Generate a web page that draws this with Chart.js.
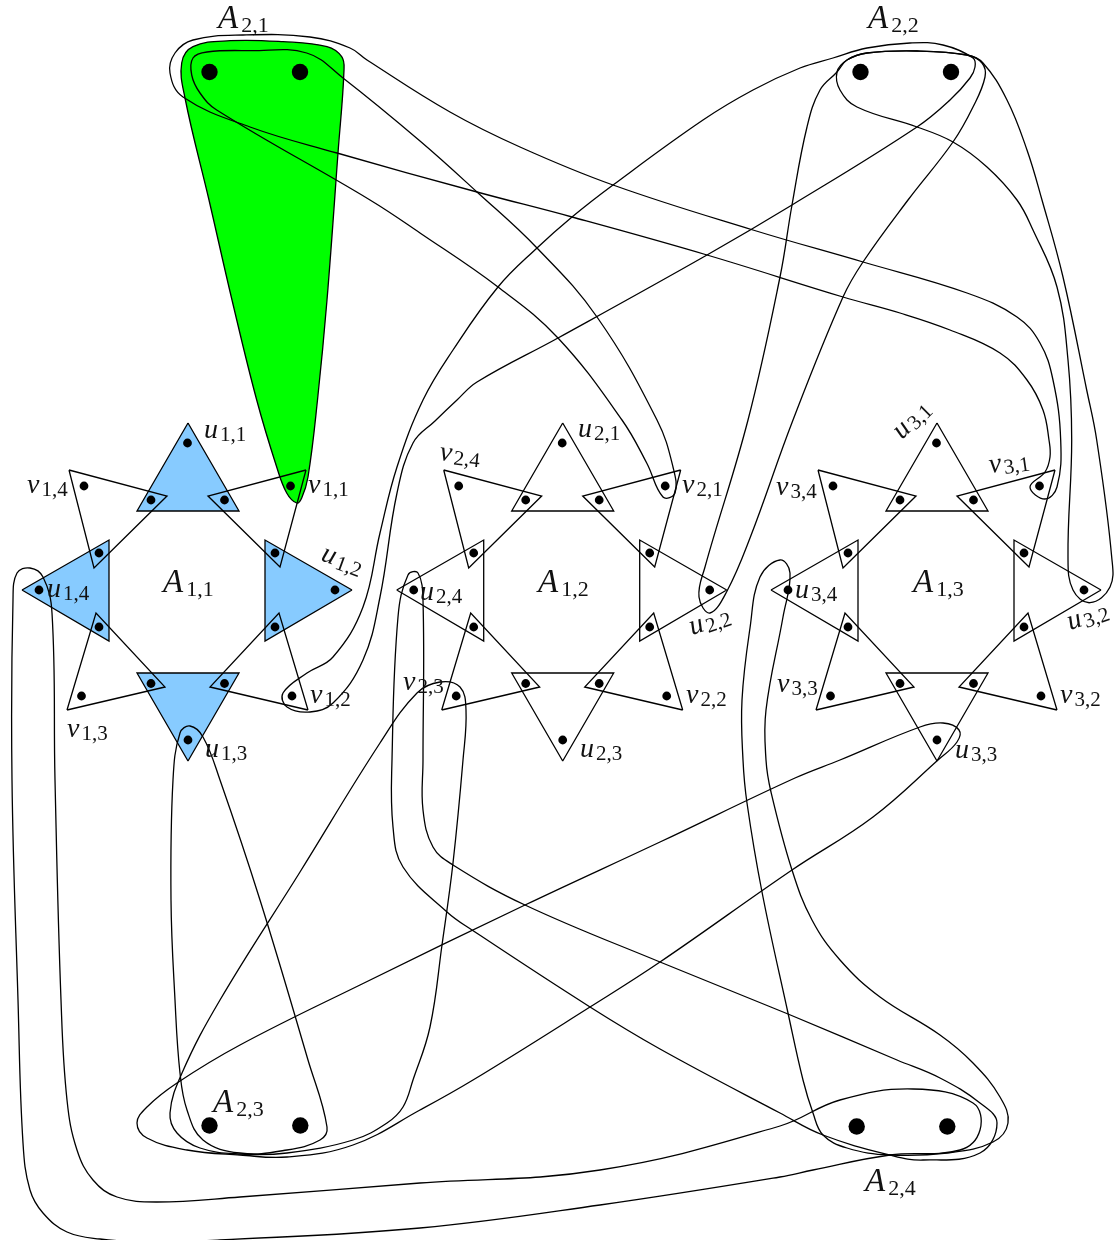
<!DOCTYPE html>
<html>
<head>
<meta charset="utf-8">
<title>Gadget reduction</title>
<script src="https://cdn.jsdelivr.net/npm/chart.js@4"></script>
<style>
  body { margin: 0; background: #fff; }
  canvas { display: block; }
</style>
</head>
<body>
<canvas id="gadgetChart" width="1119" height="1240"></canvas>
<script>
// every gadget is the same star, shifted along x
const gadgetShift = [0, 374.7, 749];

const uTriangles = [
  [[188, 423], [137, 511], [239, 511]],
  [[352, 590], [265, 540], [265, 641]],
  [[188, 761], [137, 673], [239, 673]],
  [[22, 590], [109, 540], [109, 641]]
];
const vTriangles = [
  [[306, 470], [208, 496], [280, 567]],
  [[308, 710], [210, 687], [279, 613]],
  [[67, 710], [165, 687], [96, 613]],
  [[69, 470], [167, 496], [94, 568]]
];
const starDots = [
  [187.5, 443], [335, 590], [188, 740], [39, 590],
  [290.5, 486], [292, 696], [81.5, 696], [84, 486],
  [151, 500], [224.5, 500], [99, 553], [99, 627],
  [275, 553], [275, 627], [151, 683.5], [224.5, 683.5]
];
const bigDots = [
  [209.5, 72], [300, 72], [860.5, 72], [951, 72],
  [209.5, 1125.5], [300.3, 1125.5], [856.7, 1126.5], [947.3, 1126.5]
];

// hyperedge outlines, each one a closed loop
const greenLoop = [
  [344, 70], [338, 153], [327, 300], [317.5, 400], [308, 477], [301.7, 498], [296.7, 503],
  [286.7, 493], [276.7, 467], [256.7, 400], [232, 300], [209, 200], [185, 98], [181.7, 63],
  [193, 46.7], [230, 40.7], [283, 41.7], [327, 46.7], [341.7, 56.7]
];
const v31Loop = [
  [170, 73], [175, 53], [193, 40], [243, 35], [310, 37], [350, 48], [367, 60], [450, 112], [520, 147], [613, 185],
  [753, 230], [863, 262], [967, 293], [1017, 317], [1040, 343], [1053, 380], [1060.7, 440], [1057, 487],
  [1045, 499], [1030, 487], [1045, 472], [1050, 457], [1049, 440], [1043, 410], [1027, 380], [1000, 353],
  [950, 330], [900, 313], [843, 297], [707, 255], [572, 217], [477, 192], [337, 153], [250, 127], [183, 97]
];
const v21Loop = [
  [191.7, 75], [193, 58], [207, 52], [250, 50.7], [306.7, 53], [343, 78], [420, 141], [477, 192], [537, 248], [597, 317],
  [657, 420], [673, 467], [675, 493], [663, 497], [646.7, 463], [622, 420], [558, 338], [498, 287],
  [420, 233], [370, 200], [216.7, 110], [200, 93]
];
const v12Loop = [
  [310, 712], [333, 703], [363, 660], [380, 597], [397, 493], [413, 443], [435, 421], [457, 400], [477, 382], [558, 338],
  [707, 255], [792, 205], [917, 127], [950, 100], [970, 78], [975, 67], [973, 58], [943, 45], [910, 43], [867, 48], [833, 58],
  [800, 68], [753, 90], [703, 120], [613, 185], [572, 217], [537, 248], [498, 287], [453, 350], [423, 400], [397, 467],
  [380, 533], [363, 607], [333, 657], [307, 673], [283, 693], [287, 707]
];
const u22Loop = [
  [837, 72], [847, 60], [867, 53], [917, 51], [967, 55], [982, 63], [985, 77], [973, 107], [953, 142], [908, 200],
  [863, 262], [843, 297], [793, 420], [750, 538], [726.7, 591.7], [710, 613], [699, 597], [705, 567], [748, 420],
  [780, 277], [792, 205], [807, 127], [820, 90]
];
const u32Loop = [
  [837, 72], [847, 60], [867, 53], [917, 51], [967, 55], [983, 63], [1007, 100], [1027, 150], [1042, 200], [1063, 277],
  [1086.7, 390], [1096.7, 440], [1111.7, 557], [1110, 587], [1090, 602.7], [1073, 590], [1068, 557],
  [1071.7, 440], [1068, 360], [1057, 287], [1033, 230], [1017, 200], [987, 167], [953, 142], [917, 127], [857, 107], [840, 90]
];
const u13Loop = [
  [190, 726], [203, 737], [220, 780], [260, 900], [308, 1060], [327, 1127], [320, 1140], [287, 1150],
  [240, 1153], [203, 1140], [187, 1110], [180, 1073], [175, 1000], [171, 900], [173, 780], [180, 733]
];
const v23Loop = [
  [440, 682], [460, 687], [466, 710], [463, 760], [453, 863], [442, 945], [430, 1027], [413, 1080], [403, 1107], [387, 1123],
  [353, 1140], [287, 1153], [240, 1154], [200, 1148], [177, 1133], [170, 1113], [182, 1073], [220, 1000], [300, 872],
  [380, 743], [417, 693]
];
const u33Loop = [
  [943, 723], [959, 730], [957, 742], [938, 760], [873, 817], [792, 870], [660, 962], [590, 1007], [473, 1080], [420, 1110],
  [353, 1145], [287, 1157], [240, 1155], [187, 1150], [147, 1138], [137, 1123], [147, 1107], [177, 1083], [240, 1045],
  [360, 985], [525, 905], [660, 842], [795, 778], [840, 760], [920, 727]
];
const u24Loop = [
  [408, 575], [418, 573], [423, 600], [423, 760], [423, 810], [433, 847], [453, 865], [525, 905], [660, 962], [788, 1014],
  [897, 1060], [940, 1078], [980, 1103], [997, 1123], [980, 1153], [923, 1160], [890, 1155], [823, 1135], [780, 1113],
  [660, 1049], [590, 1007], [472, 930], [447, 912], [403, 867], [393, 827], [392, 760], [398, 617]
];
const u34Loop = [
  [780, 560], [790, 573], [783, 617], [766, 710], [766, 760], [771, 792], [792, 870], [812, 920], [840, 960], [880, 997],
  [940, 1035], [973, 1063], [1000, 1097], [1008, 1123], [993, 1142], [947, 1153], [890, 1155], [847, 1148], [823, 1135],
  [813, 1113], [803, 1080], [788, 1013], [762, 892], [747, 803], [743, 760], [742, 700], [750, 628], [760, 577]
];
const u14Loop = [
  [17, 573], [30, 568], [43, 577], [52, 613], [55, 780], [61, 1000], [67, 1100], [77, 1150], [93, 1180], [117, 1197],
  [157, 1202], [240, 1197], [420, 1183], [600, 1170], [780, 1126], [840, 1100], [913, 1089], [973, 1103], [980, 1130],
  [960, 1150], [890, 1155], [813, 1170], [780, 1177], [600, 1205], [420, 1228], [220, 1240], [150, 1242], [100, 1239],
  [67, 1232], [43, 1213], [30, 1190], [23, 1143], [18, 1000], [12, 780], [13, 600]
];
const blackLoops = [v31Loop, v21Loop, v12Loop, u22Loop, u32Loop, u13Loop, v23Loop, u33Loop, u24Loop, u34Loop, u14Loop];

// text, subscript, left end of the baseline, rotation in degrees
const bigLabels = [
  ["A", "1,1", 163, 592, 0], ["A", "1,2", 538, 592, 0], ["A", "1,3", 913, 592, 0],
  ["A", "2,1", 218, 28, 0], ["A", "2,2", 868, 28, 0], ["A", "2,3", 213, 1112, 0], ["A", "2,4", 865, 1191, 0]
];
const smallLabels = [
  ["u", "1,1", 204, 438, 0], ["u", "1,2", 320, 560, 20], ["u", "1,3", 205, 757, 0], ["u", "1,4", 47, 597, 0],
  ["v", "1,1", 308, 493, 0], ["v", "1,2", 310, 703, 0], ["v", "1,3", 67, 737, 0], ["v", "1,4", 27, 493, 0],
  ["u", "2,1", 578, 437, 0], ["u", "2,2", 692, 635, -18], ["u", "2,3", 580, 757, 0], ["u", "2,4", 420, 600, 0],
  ["v", "2,1", 682, 493, 0], ["v", "2,2", 686, 703, 0], ["v", "2,3", 403, 690, 0], ["v", "2,4", 439, 460, 6],
  ["u", "3,1", 902, 440, -45], ["u", "3,2", 1070, 630, -18], ["u", "3,3", 955, 758, 0], ["u", "3,4", 795, 598, 0],
  ["v", "3,1", 990, 473, -8], ["v", "3,2", 1060, 703, 0], ["v", "3,3", 777, 692, 0], ["v", "3,4", 776, 495, 0]
];

const toPoints = list => list.map(p => ({ x: p[0], y: p[1] }));
const shifted = (list, dx) => list.map(p => [p[0] + dx, p[1]]);

// the loop runs over its first point twice so the spline has no kink at the seam,
// the two extra segments are left transparent
function closedLoop(list) {
  const last = list.length - 1;
  const pts = [list[last], ...list, list[0], list[1]];
  return {
    data: toPoints(pts),
    showLine: true,
    tension: 0.4,
    capBezierPoints: false,
    borderColor: "#000",
    borderWidth: 1.3,
    pointRadius: 0,
    order: 2,
    segment: {
      borderColor: ctx => (ctx.p0DataIndex === 0 || ctx.p1DataIndex === pts.length - 1) ? "transparent" : "#000"
    }
  };
}

function triangle(list, fillColor, order) {
  return {
    data: toPoints([...list, list[0]]),
    showLine: true,
    tension: 0,
    borderColor: "#000",
    borderWidth: 1.3,
    borderJoinStyle: "miter",
    pointRadius: 0,
    fill: fillColor ? "shape" : false,
    backgroundColor: fillColor || "transparent",
    order: order
  };
}

const datasets = [];

datasets.push({ data: toPoints(gadgetShift.flatMap(dx => shifted(starDots, dx))), pointRadius: 4.4, pointBackgroundColor: "#000", pointBorderWidth: 0, order: 0 });
datasets.push({ data: toPoints(bigDots), pointRadius: 8.2, pointBackgroundColor: "#000", pointBorderWidth: 0, order: 0 });

blackLoops.forEach(loop => datasets.push(closedLoop(loop)));

gadgetShift.forEach((dx, g) => {
  uTriangles.forEach(t => datasets.push(triangle(shifted(t, dx), g === 0 ? "#87cbff" : null, g === 0 ? 5 : 3)));
  vTriangles.forEach(t => datasets.push(triangle(shifted(t, dx), null, 3)));
});

datasets.push({ ...closedLoop(greenLoop), fill: "shape", backgroundColor: "#00ff00", order: 6 });

const labelPlugin = {
  id: "gadgetLabels",
  afterDatasetsDraw(chart) {
    const { ctx, scales } = chart;
    const put = (rows, size, subSize, drop, gap) => rows.forEach(([main, sub, x, y, rot]) => {
      ctx.save();
      ctx.translate(scales.x.getPixelForValue(x), scales.y.getPixelForValue(y));
      ctx.rotate(rot * Math.PI / 180);
      ctx.fillStyle = "#111";
      ctx.textBaseline = "alphabetic";
      ctx.font = "italic " + size + "px 'Liberation Serif'";
      ctx.fillText(main, 0, 0);
      const w = ctx.measureText(main).width;
      ctx.font = subSize + "px 'Liberation Serif'";
      ctx.fillText(sub, w + gap, drop);
      ctx.restore();
    });
    put(bigLabels, 33, 22, 4, 3);
    put(smallLabels, 28, 21, 3, 2);
  }
};

new Chart(document.getElementById("gadgetChart"), {
  type: "scatter",
  data: { datasets },
  plugins: [labelPlugin],
  options: {
    responsive: false,
    animation: false,
    clip: false,
    layout: { padding: 0, autoPadding: false },
    plugins: { legend: { display: false }, tooltip: { enabled: false } },
    scales: {
      x: { type: "linear", min: 0, max: 1119, display: false },
      y: { type: "linear", min: 0, max: 1240, reverse: true, display: false }
    }
  }
});
</script>
</body>
</html>
